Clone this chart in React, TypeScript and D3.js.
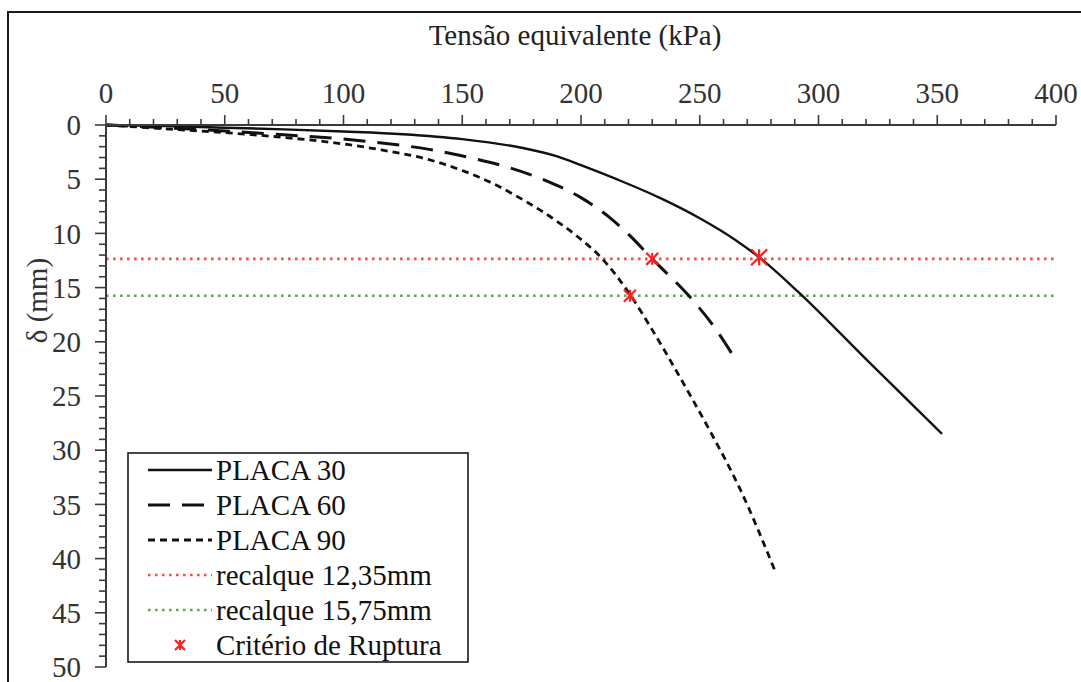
import React, { useMemo } from 'react'
import * as d3 from 'd3'

// tensão equivalente (kPa) x recalque δ (mm)
const placa30Kpa = [0, 25, 50, 75, 100, 125, 150, 175, 190, 200, 215, 233, 250, 265, 275, 291, 320, 352]
const placa30Mm = [0, 0.1, 0.25, 0.4, 0.6, 0.85, 1.3, 2.1, 2.9, 3.7, 5.0, 6.7, 8.6, 10.6, 12.2, 15.3, 21.6, 28.5]

const placa60Kpa = [0, 25, 50, 75, 100, 118, 136, 153, 170, 186, 200, 213, 221, 230, 246, 256, 265]
const placa60Mm = [0, 0.25, 0.55, 0.9, 1.3, 1.7, 2.25, 3.0, 3.95, 5.2, 6.7, 8.7, 10.3, 12.35, 15.9, 18.6, 21.6]

const placa90Kpa = [0, 25, 50, 75, 100, 116, 136, 150, 162, 174, 188, 198, 209, 221, 230, 242, 254, 267, 282]
const placa90Mm = [0, 0.35, 0.7, 1.15, 1.75, 2.3, 3.2, 4.2, 5.3, 6.7, 8.6, 10.2, 12.35, 15.75, 18.9, 23.4, 28.1, 33.6, 41.3]

const recalques = [12.35, 15.75]
const rupturaKpa = [275, 230, 220.6]
const rupturaMm = [12.2, 12.35, 15.75]

const legendLabels = ['PLACA 30', 'PLACA 60', 'PLACA 90', 'recalque 12,35mm', 'recalque 15,75mm', 'Critério de Ruptura']

const W = 1081
const H = 682
const left = 106
const right = 1056
const top = 125
const bottom = 667
const FONT = "'Liberation Serif', 'DejaVu Serif', serif"
const FS = 29
const RED = '#ff4a4a'
const GREEN = '#6f9f55'

// excel-like star marker
const Star = ({ x, y, s = 6 }: { x: number, y: number, s?: number }) => (
    <g stroke="#ff1f1f" strokeWidth={2.2}>
        <line x1={x - s} y1={y - s} x2={x + s} y2={y + s} />
        <line x1={x - s} y1={y + s} x2={x + s} y2={y - s} />
        <line x1={x} y1={y - s} x2={x} y2={y + s} />
    </g>
)

export default function App() {
    const x = useMemo(() => d3.scaleLinear().domain([0, 400]).range([left, right]), [])
    const y = useMemo(() => d3.scaleLinear().domain([0, 50]).range([top, bottom]), [])

    const line = d3.line<[number, number]>()
        .x(d => x(d[0]))
        .y(d => y(d[1]))
        .curve(d3.curveMonotoneX)

    const series = [
        { kpa: placa30Kpa, mm: placa30Mm, dash: undefined, w: 2.4 },
        { kpa: placa60Kpa, mm: placa60Mm, dash: '22,12', w: 3 },
        { kpa: placa90Kpa, mm: placa90Mm, dash: '7,5', w: 2.8 },
    ]

    const xMajor = d3.range(0, 401, 50)
    const xMinor = d3.range(0, 401, 10)
    const yMajor = d3.range(0, 51, 5)
    const yMinor = d3.range(0, 51, 1)

    const legX = 128
    const legY = 453
    const rowY = (i: number) => 470 + i * 35

    return (
        <svg width={W} height={H} style={{ position: 'fixed', left: 0, top: 0, background: '#fff', fontFamily: FONT }}>
            <rect x={8} y={12} width={1100} height={720} fill="white" stroke="#1a1a1a" strokeWidth={2} />

            <text x={575} y={45} fontSize={FS} textAnchor="middle" fill="#222">Tensão equivalente (kPa)</text>
            <text transform={`translate(47 ${y(16.2)}) rotate(-90)`} fontSize={FS} textAnchor="middle" fill="#333">δ (mm)</text>

            {/* reference settlement lines */}
            {recalques.map((r, i) => (
                <line key={r} x1={left} x2={right} y1={y(r)} y2={y(r)}
                    stroke={i === 0 ? RED : GREEN} strokeWidth={2.6} strokeDasharray="2.6,4.4" />
            ))}

            {/* curves */}
            {series.map((s, i) => (
                <path key={i} d={line(s.kpa.map((k, j) => [k, s.mm[j]] as [number, number])) || ''}
                    fill="none" stroke="#111" strokeWidth={s.w} strokeDasharray={s.dash} />
            ))}

            {rupturaKpa.map((k, i) => <Star key={i} x={x(k)} y={y(rupturaMm[i])} s={i === 0 ? 8 : 6} />)}

            {/* top x axis */}
            <line x1={left} x2={right} y1={top} y2={top} stroke="#3a3a3a" strokeWidth={2} />
            {xMinor.map(t => (
                <line key={t} x1={x(t)} x2={x(t)} y1={top} y2={top - (t % 50 === 0 ? 10 : 6)} stroke="#3a3a3a" strokeWidth={1.6} />
            ))}
            {xMajor.map(t => (
                <text key={t} x={x(t)} y={103} fontSize={FS} textAnchor="middle" fill="#333">{t}</text>
            ))}

            {/* left y axis */}
            <line x1={left} x2={left} y1={top} y2={bottom} stroke="#3a3a3a" strokeWidth={2} />
            {yMinor.map(t => (
                <line key={t} x1={left} x2={left - (t % 5 === 0 ? 11 : 7)} y1={y(t)} y2={y(t)} stroke="#3a3a3a" strokeWidth={1.6} />
            ))}
            {yMajor.map(t => (
                <text key={t} x={81} y={y(t)} dy="0.35em" fontSize={FS} textAnchor="end" fill="#333">{t}</text>
            ))}

            {/* legend */}
            <rect x={legX} y={legY} width={340} height={209} fill="white" stroke="#1a1a1a" strokeWidth={1.6} />
            {series.map((s, i) => (
                <line key={i} x1={148} x2={212} y1={rowY(i)} y2={rowY(i)} stroke="#111" strokeWidth={s.w} strokeDasharray={s.dash} />
            ))}
            <line x1={148} x2={212} y1={rowY(3)} y2={rowY(3)} stroke={RED} strokeWidth={2.6} strokeDasharray="2.6,4.4" />
            <line x1={148} x2={212} y1={rowY(4)} y2={rowY(4)} stroke={GREEN} strokeWidth={2.6} strokeDasharray="2.6,4.4" />
            <Star x={180} y={rowY(5)} s={5} />
            {legendLabels.map((l, i) => (
                <text key={l} x={216} y={rowY(i)} dy="0.35em" fontSize={FS} fill="#111">{l}</text>
            ))}
        </svg>
    )
}
